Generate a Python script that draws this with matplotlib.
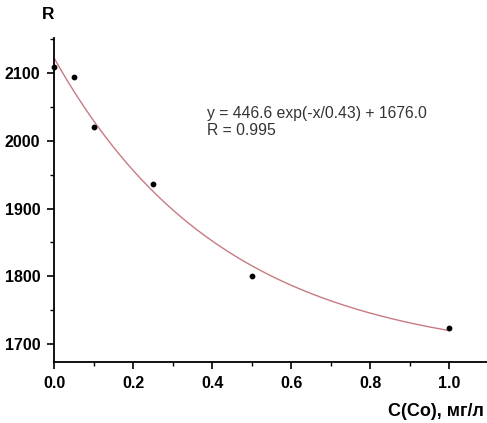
import numpy as np
import matplotlib
matplotlib.use('Agg')
import matplotlib.pyplot as plt
from matplotlib.ticker import MultipleLocator

plt.rcParams['font.family'] = ['Liberation Sans', 'DejaVu Sans']

# measured points
conc = [0.0, 0.05, 0.1, 0.25, 0.5, 1.0]
resist = [2109, 2094, 2020, 1937, 1800, 1724]

# exponential decay fit
amp = 446.6
tau = 0.43
offset = 1676.0
r_fit = 0.995

fig = plt.figure(figsize=(4.87, 4.23), dpi=100)
ax = fig.add_axes([0.111, 0.144, 0.889, 0.766])

xf = np.linspace(0, 1.0, 200)
ax.plot(xf, amp * np.exp(-xf / tau) + offset, color='#c77a82', lw=1.0, zorder=2)
ax.scatter(conc, resist, s=10, color='black', zorder=3, clip_on=False)

ax.set_xlim(0, 1.096)
ax.set_ylim(1673, 2152)

for side in ('top', 'right'):
    ax.spines[side].set_visible(False)
for side in ('left', 'bottom'):
    ax.spines[side].set_linewidth(1.3)

ax.xaxis.set_major_locator(MultipleLocator(0.2))
ax.xaxis.set_minor_locator(MultipleLocator(0.1))
ax.yaxis.set_major_locator(MultipleLocator(100))
ax.yaxis.set_minor_locator(MultipleLocator(50))
ax.tick_params(which='major', length=5, width=1.2, labelsize=11.5, pad=5)
ax.tick_params(which='minor', length=3, width=1.0)
for lbl in ax.get_xticklabels() + ax.get_yticklabels():
    lbl.set_fontweight('bold')
ax.xaxis.set_major_formatter(plt.FuncFormatter(lambda v, p: '%.1f' % v))

fig.text(0.099, 0.965, 'R', fontsize=12.5, fontweight='bold', ha='center', va='center')
fig.text(0.993, 0.028, 'C(Co), мг/л', fontsize=13, fontweight='bold', ha='right', va='center')

ax.text(0.353, 0.741, 'y = %.1f exp(-x/%.2f) + %.1f\nR = %.3f' % (amp, tau, offset, r_fit),
        transform=ax.transAxes, fontsize=11.3, color='#333333', va='center', ha='left',
        linespacing=1.1)

fig.savefig('out.png', dpi=100)
